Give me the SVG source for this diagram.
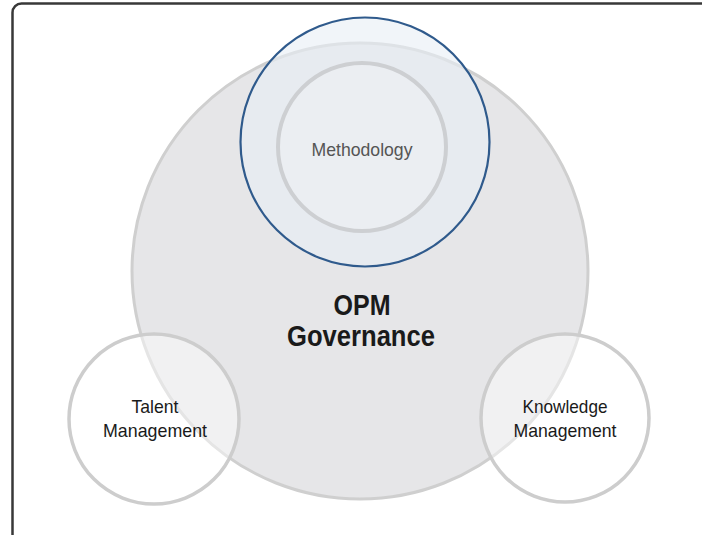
<svg xmlns="http://www.w3.org/2000/svg" width="702" height="535" viewBox="0 0 702 535">
<style>
.lbl{font-family:"Liberation Sans Narrow","Liberation Sans",Arial,sans-serif;text-anchor:middle;}
.sm{fill:#ffffff;fill-opacity:0.45;stroke:#cdcdcd;stroke-width:3.5;}
</style>
<rect x="0" y="0" width="702" height="535" fill="#ffffff"/>
<rect x="12.5" y="3.5" width="720" height="545" rx="9" fill="#ffffff" stroke="#383838" stroke-width="2.5"/>
<g id="opm-governance">
<circle cx="360" cy="271" r="228" fill="#e6e6e8" stroke="#cfcfcf" stroke-width="3"/>
<text class="lbl" x="362" y="315" font-size="29" font-weight="bold" fill="#1a1a1a" textLength="57" lengthAdjust="spacingAndGlyphs">OPM</text>
<text class="lbl" x="361" y="346" font-size="29" font-weight="bold" fill="#1a1a1a" textLength="148" lengthAdjust="spacingAndGlyphs">Governance</text>
</g>
<g id="methodology">
<circle cx="365" cy="142" r="124.5" fill="#e8eef5" fill-opacity="0.6" stroke="#2f5a8c" stroke-width="2.2"/>
<circle cx="362" cy="147" r="84" fill="#ebeef2" stroke="#cdcfd2" stroke-width="4"/>
<text class="lbl" x="362" y="156" font-size="19" fill="#555555" textLength="101" lengthAdjust="spacingAndGlyphs">Methodology</text>
</g>
<g id="talent-management">
<circle class="sm" cx="154" cy="419" r="85"/>
<text class="lbl" x="155" y="413" font-size="19" fill="#1a1a1a" textLength="47" lengthAdjust="spacingAndGlyphs">Talent</text>
<text class="lbl" x="155" y="437" font-size="19" fill="#1a1a1a" textLength="104" lengthAdjust="spacingAndGlyphs">Management</text>
</g>
<g id="knowledge-management">
<circle class="sm" cx="565" cy="418" r="84"/>
<text class="lbl" x="565" y="413" font-size="19" fill="#1a1a1a" textLength="85" lengthAdjust="spacingAndGlyphs">Knowledge</text>
<text class="lbl" x="565" y="437" font-size="19" fill="#1a1a1a" textLength="103" lengthAdjust="spacingAndGlyphs">Management</text>
</g>
<g id="connectors"></g>
</svg>
